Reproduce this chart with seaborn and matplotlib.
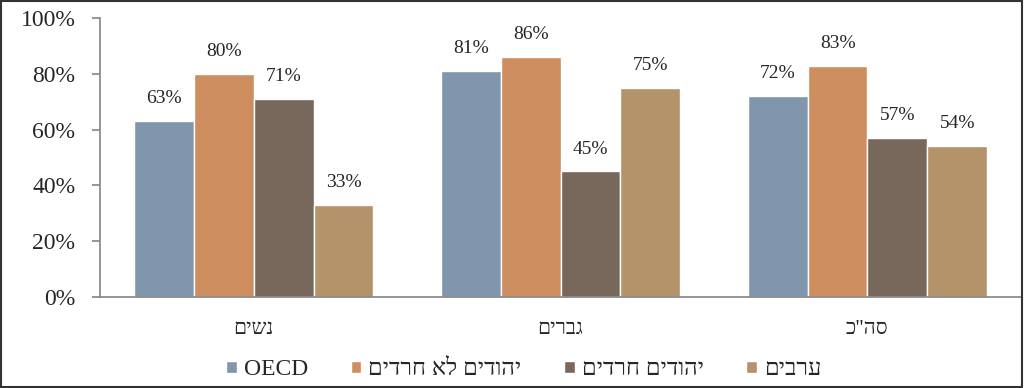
import matplotlib
matplotlib.use("Agg")
import matplotlib.pyplot as plt
from matplotlib.patches import Rectangle
import seaborn as sns
import pandas as pd

groups = ["נשים", "גברים", "סה\"כ"]
series = ["OECD", "יהודים לא חרדים", "יהודים חרדים", "ערבים"]
oecd = [63, 81, 72]
jews_non_haredi = [80, 86, 83]
jews_haredi = [71, 45, 57]
arabs = [33, 75, 54]
colors = ["#7f96ad", "#cd8d5e", "#78685c", "#b4936b"]

def rtl(s):
    # matplotlib has no bidi, flip hebrew strings for display
    return s if s.isascii() else s[::-1]

rows = []
for name, vals in zip(series, [oecd, jews_non_haredi, jews_haredi, arabs]):
    for g, v in zip(groups, vals):
        rows.append({"group": rtl(g), "series": rtl(name), "value": v})
df = pd.DataFrame(rows)

sns.set_theme(style="white")
plt.rcParams["font.family"] = ["Liberation Serif", "DejaVu Serif", "DejaVu Sans"]

fig, ax = plt.subplots(figsize=(10.24, 3.88), dpi=100)
fig.subplots_adjust(left=0.098, right=0.997, top=0.953, bottom=0.235)

sns.barplot(data=df, x="group", y="value", hue="series", palette=colors,
            saturation=1, width=0.78, edgecolor="white", linewidth=1, ax=ax,
            legend=True)

for cont in ax.containers:
    ax.bar_label(cont, labels=[f"{int(v)}%" for v in cont.datavalues],
                 padding=10, fontsize=14)

ax.set_ylim(0, 100)
ax.set_yticks(range(0, 101, 20))
ax.set_yticklabels([f"{t}%" for t in range(0, 101, 20)], fontsize=17)
ax.set_xlim(-0.5, 2.5)
ax.tick_params(axis="x", length=0, labelsize=15, pad=17)
ax.set_xticks([-0.5, 0.5, 1.5, 2.5], minor=True)
ax.tick_params(axis="x", which="minor", length=6, color="#888888", direction="out")
ax.tick_params(axis="y", length=6, color="#888888", direction="out", left=True, pad=12)
ax.set_xlabel("")
ax.set_ylabel("")
for side in ["top", "right"]:
    ax.spines[side].set_visible(False)
for side in ["left", "bottom"]:
    ax.spines[side].set_color("#888888")

ax.legend(loc="center", bbox_to_anchor=(0.46, -0.262), ncol=4, frameon=False,
          fontsize=17, handlelength=0.45, handleheight=0.45, handletextpad=0.3,
          columnspacing=1.8)

fig.patches.append(Rectangle((0.001, 0.002), 0.997, 0.995, transform=fig.transFigure,
                             fill=False, edgecolor="#333333", linewidth=1.5))

fig.savefig("out.png", dpi=100)
